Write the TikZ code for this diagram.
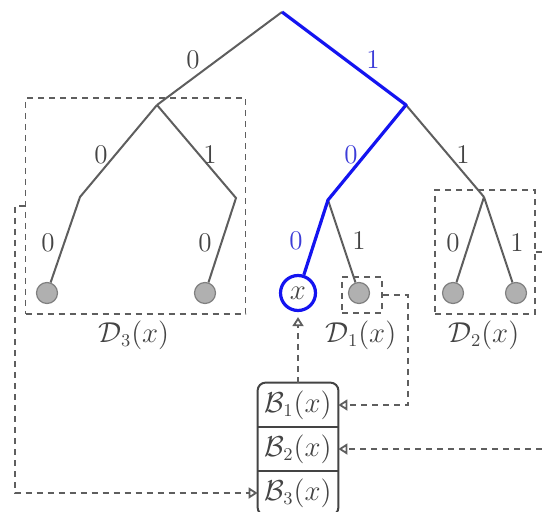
\documentclass[tikz,border=0pt]{standalone}
\usetikzlibrary{arrows.meta}
\definecolor{tree}{HTML}{5E5E5E}
\definecolor{leafc}{HTML}{B0B0B0}
\definecolor{blu}{HTML}{1414F0}
\definecolor{txt}{HTML}{444444}
\definecolor{btxt}{HTML}{3C3CD8}
\begin{document}
\begin{tikzpicture}[x=0.5pt,y=-0.5pt, font=\fontsize{13.5}{16}\selectfont,
 treeline/.style={draw=tree, line width=1pt},
 pathline/.style={draw=blu, line width=1.6pt, line join=round},
 leaf/.style={circle, fill=leafc, draw=gray, line width=0.6pt, minimum size=10.5pt, inner sep=0pt},
 dbox/.style={draw=tree, dash pattern=on 3pt off 2.5pt, line width=0.85pt, inner sep=0pt},
 conn/.style={draw=tree, dash pattern=on 3pt off 2.5pt, line width=0.85pt, -{Triangle[open,length=4.5pt,width=5.5pt,line width=0.9pt]}},
 lbl/.style={text=txt},
 blbl/.style={text=btxt},
 brow/.style={minimum width=40pt, minimum height=22pt, inner sep=0pt, text=txt},
 bline/.style={draw=txt, line width=1pt}]
\useasboundingbox (0,0) rectangle (544,512);
% dashed sub-tree boxes
\node[dbox, minimum width=110pt, minimum height=108pt] (d3) at (135.5,206) {};
\node[dbox, minimum width=20pt, minimum height=18pt] (d1) at (362,295) {};
\node[dbox, minimum width=50pt, minimum height=62pt] (d2) at (485,252) {};
% internal nodes
\coordinate (r) at (282,12);
\coordinate (a) at (157,105);
\coordinate (b) at (406,105);
\coordinate (aa) at (80,197);
\coordinate (ab) at (236,198);
\coordinate (ba) at (328,200);
\coordinate (bb) at (484,197);
% leaves
\node[leaf] (l1) at (47,293) {};
\node[leaf] (l2) at (205,293) {};
\node[leaf] (l3) at (359,293) {};
\node[leaf] (l4) at (453,293) {};
\node[leaf] (l5) at (516,293) {};
\node[circle, draw=blu, line width=1.6pt, minimum size=17.5pt, inner sep=0pt, text=txt] (xc) at (298,293) {$x$};
% edges
\draw[treeline] (r) -- (a);
\draw[treeline] (a) -- (aa) -- (l1);
\draw[treeline] (a) -- (ab) -- (l2);
\draw[treeline] (b) -- (bb);
\draw[treeline] (ba) -- (l3);
\draw[treeline] (bb) -- (l4);
\draw[treeline] (bb) -- (l5);
\draw[pathline] (r) -- (b) -- (ba) -- (xc);
% edge labels
\node[lbl] (e1) at (193,60) {0};
\node[blbl] (e2) at (373,60) {1};
\node[lbl] (e3) at (101,155) {0};
\node[lbl] (e4) at (210,155) {1};
\node[blbl] (e5) at (351,155) {0};
\node[lbl] (e6) at (463,155) {1};
\node[lbl] (e7) at (48,243) {0};
\node[lbl] (e8) at (205,243) {0};
\node[blbl] (e9) at (296,241) {0};
\node[lbl] (e10) at (359,241) {1};
\node[lbl] (e11) at (453,243) {0};
\node[lbl] (e12) at (517,243) {1};
% box labels
\node[lbl] (t3) at (134,335) {$\mathcal{D}_3(x)$};
\node[lbl] (t1) at (361,335) {$\mathcal{D}_1(x)$};
\node[lbl] (t2) at (484,335) {$\mathcal{D}_2(x)$};
% B stack
\node[brow] (b1) at (298,405) {$\mathcal{B}_1(x)$};
\node[brow] (b2) at (298,449) {$\mathcal{B}_2(x)$};
\node[brow] (b3) at (298,493) {$\mathcal{B}_3(x)$};
\draw[bline, rounded corners=4pt] (b1.north west) rectangle (b3.south east);
\draw[bline] (b1.south west) -- (b1.south east);
\draw[bline] (b2.south west) -- (b2.south east);
% connectors
\draw[conn, shorten >=2.5pt] (b1.north) -- (xc.south);
\draw[conn] (d1.east) -- ++(25,0) |- (b1.east);
\draw[conn] (d2.east) -- ++(20,0) |- (b2.east);
\draw[conn] (d3.west) -- ++(-10,0) |- (b3.west);
\end{tikzpicture}
\end{document}
